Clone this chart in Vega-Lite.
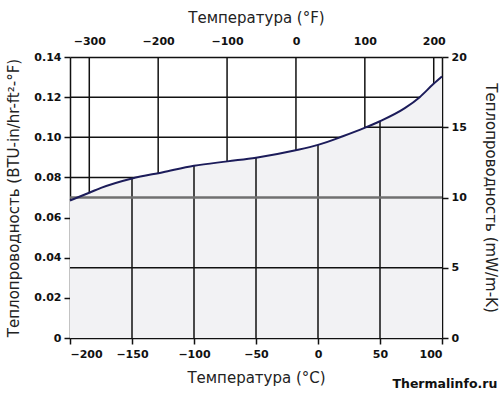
{
  "$schema": "https://vega.github.io/schema/vega-lite/v6.json",
  "width": 372,
  "height": 281,
  "autosize": {"type": "none"},
  "padding": {"left": 70, "top": 57, "right": 58, "bottom": 57},
  "background": "white",
  "config": {
    "view": {"stroke": null},
    "font": "DejaVu Sans",
    "axis": {
      "labelFont": "DejaVu Sans", "labelFontSize": 11, "labelFontWeight": "bold", "labelColor": "#111",
      "titleFont": "DejaVu Sans", "titleFontSize": 15, "titleFontWeight": "normal", "titleColor": "#222",
      "domainColor": "#111", "domainWidth": 1.5, "tickColor": "#111", "tickWidth": 1.5, "tickSize": 6,
      "grid": false, "zindex": 1
    }
  },
  "title": {"text": "Thermalinfo.ru", "orient": "bottom", "anchor": "end", "fontSize": 12.5, "fontWeight": "bold", "font": "DejaVu Sans", "color": "#111", "offset": -7, "dx": 0},
  "datasets": {
    "curve": [
      {"t": -200, "k": 0.0685}, {"t": -184, "k": 0.0725}, {"t": -175, "k": 0.0748},
      {"t": -150, "k": 0.0795}, {"t": -125, "k": 0.0826}, {"t": -100, "k": 0.0858},
      {"t": -73, "k": 0.0880}, {"t": -50, "k": 0.0898}, {"t": -18, "k": 0.0935},
      {"t": 0, "k": 0.0962}, {"t": 20, "k": 0.1005}, {"t": 38, "k": 0.1048},
      {"t": 50, "k": 0.1080}, {"t": 70, "k": 0.1145}, {"t": 82, "k": 0.1200},
      {"t": 93, "k": 0.1265}, {"t": 100, "k": 0.1303}
    ],
    "cgrid": [
      {"t": -150, "lo": 0, "k": 0.0795}, {"t": -100, "lo": 0, "k": 0.0858}, {"t": -50, "lo": 0, "k": 0.0898},
      {"t": 0, "lo": 0, "k": 0.0962}, {"t": 50, "lo": 0, "k": 0.1080}
    ],
    "fticks": [{"f": -300, "lo": 0, "hi": 0.14}, {"f": -200, "lo": 0, "hi": 0.14}, {"f": -100, "lo": 0, "hi": 0.14}, {"f": 0, "lo": 0, "hi": 0.14}, {"f": 100, "lo": 0, "hi": 0.14}, {"f": 200, "lo": 0, "hi": 0.14}],
    "kticks": [{"k": 0.08, "t1": -200, "t2": 100}, {"k": 0.10, "t1": -200, "t2": 100}, {"k": 0.12, "t1": -200, "t2": 100}],
    "rlines": [{"mw": 5, "t1": -200, "t2": 100}, {"mw": 10, "t1": -200, "t2": 100}, {"mw": 15, "t1": 38, "t2": 100}]
  },
  "resolve": {"scale": {"x": "independent", "y": "independent"}},
  "layer": [
    {
      "data": {"name": "fticks"},
      "mark": {"type": "rule", "color": "#111", "strokeWidth": 1.5},
      "encoding": {
        "x": {
          "field": "f", "type": "quantitative",
          "scale": {"domain": [-328, 212], "nice": false, "zero": false},
          "axis": {"orient": "top", "title": "Температура (°F)", "values": [-300, -200, -100, 0, 100, 200], "ticks": false, "labelPadding": 11, "titlePadding": 10}
        },
        "y": {"field": "lo", "type": "quantitative", "scale": {"domain": [0, 0.14], "nice": false, "zero": true}, "axis": null},
        "y2": {"field": "hi"}
      }
    },
    {
      "layer": [
        {
          "data": {"name": "kticks"},
          "mark": {"type": "rule", "color": "#111", "strokeWidth": 1.5},
          "encoding": {
            "x": {"field": "t1", "type": "quantitative"},
            "x2": {"field": "t2"},
            "y": {"field": "k", "type": "quantitative"}
          }
        },
        {
          "data": {"name": "curve"},
          "mark": {"type": "area", "color": "#f2f2f4", "interpolate": "monotone"},
          "encoding": {
            "x": {"field": "t", "type": "quantitative"},
            "y": {"field": "k", "type": "quantitative"}
          }
        },
        {
          "data": {"name": "cgrid"},
          "mark": {"type": "rule", "color": "#111", "strokeWidth": 1.5},
          "encoding": {
            "x": {"field": "t", "type": "quantitative"},
            "y": {"field": "lo", "type": "quantitative"},
            "y2": {"field": "k"}
          }
        }
      ],
      "encoding": {
        "x": {
          "type": "quantitative",
          "scale": {"domain": [-200, 100], "nice": false, "zero": false},
          "axis": {"orient": "bottom", "title": "Температура (°C)", "values": [-200, -150, -100, -50, 0, 50, 100], "labelPadding": 4, "titlePadding": 11}
        },
        "y": {
          "type": "quantitative",
          "scale": {"domain": [0, 0.14], "nice": false, "zero": true},
          "axis": {"orient": "left", "title": "Теплопроводность (BTU-in/hr-ft²-°F)", "values": [0, 0.02, 0.04, 0.06, 0.08, 0.1, 0.12, 0.14], "labelExpr": "datum.value == 0 ? '0' : format(datum.value, '.2f')", "labelPadding": 3, "titlePadding": 12}
        }
      }
    },
    {
      "data": {"name": "rlines"},
      "mark": {"type": "rule"},
      "encoding": {
        "x": {"field": "t1", "type": "quantitative", "scale": {"domain": [-200, 100], "nice": false, "zero": false}, "axis": null},
        "x2": {"field": "t2"},
        "y": {
          "field": "mw", "type": "quantitative",
          "scale": {"domain": [0, 20], "nice": false, "zero": true},
          "axis": {"orient": "right", "title": "Теплопроводность  (mW/m-K)", "values": [0, 5, 10, 15, 20], "labelPadding": 3, "titlePadding": 16}
        },
        "color": {"condition": {"test": "datum.mw == 10", "value": "#707070"}, "value": "#111"},
        "strokeWidth": {"condition": {"test": "datum.mw == 10", "value": 2.5}, "value": 1.5}
      }
    },
    {
      "data": {"name": "curve"},
      "mark": {"type": "line", "color": "#1c1c5a", "strokeWidth": 2, "interpolate": "monotone"},
      "encoding": {
        "x": {"field": "t", "type": "quantitative", "scale": {"domain": [-200, 100], "nice": false, "zero": false}, "axis": null},
        "y": {"field": "k", "type": "quantitative", "scale": {"domain": [0, 0.14], "nice": false, "zero": true}, "axis": null}
      }
    }
  ]
}
